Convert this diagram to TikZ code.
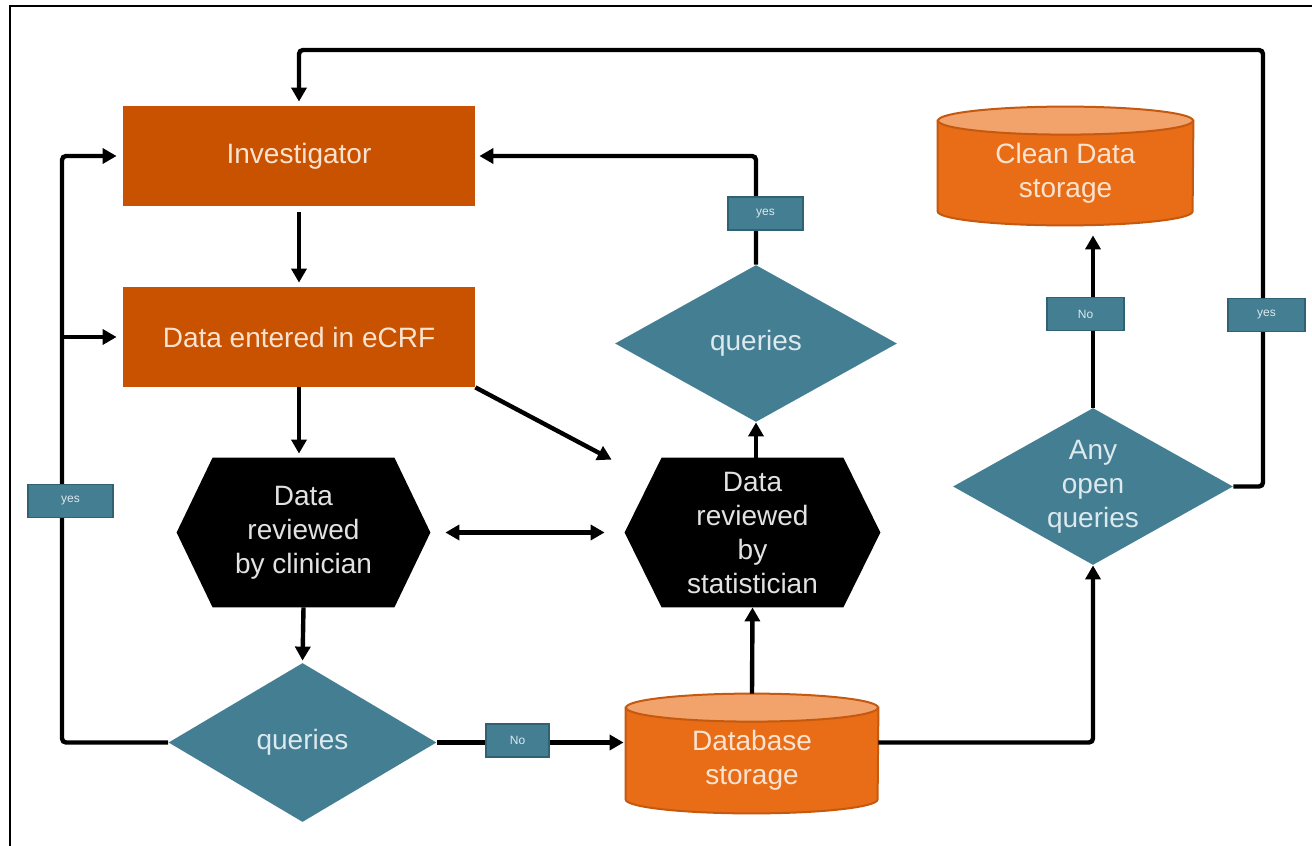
\documentclass[tikz,border=0pt]{standalone}
\usepackage{fontspec}
\setmainfont{Liberation Sans}
\usetikzlibrary{arrows.meta,calc,shapes.geometric}
\pgfdeclarelayer{bg}
\pgfsetlayers{bg,main}
\definecolor{boxor}{HTML}{C85200}
\definecolor{cylor}{HTML}{E86D16}
\definecolor{cyltop}{HTML}{F2A36B}
\definecolor{cylbd}{HTML}{C4590F}
\definecolor{dteal}{HTML}{447E92}
\definecolor{dtealbd}{HTML}{2F6273}
\definecolor{ortext}{HTML}{FBE3D2}
\definecolor{tltext}{HTML}{DCE9EE}
\definecolor{hxtext}{HTML}{E2E2E2}
\begin{document}
\begin{tikzpicture}[x=0.5pt,y=-0.5pt,
  every node/.style={font=\fontsize{14}{17}\selectfont},
  proc/.style={rectangle, fill=boxor, text=ortext, inner sep=0pt,
    minimum width=176pt, minimum height=50pt},
  hexn/.style={rectangle, inner sep=0pt, align=center, text=hxtext,
    minimum height=74.5pt},
  dia/.style={diamond, fill=dteal, text=tltext, inner sep=0pt, aspect=1.78, align=center},
  cyl/.style={rectangle, inner sep=0pt, align=center, text=ortext},
  conn/.style={line width=2.2pt, rounded corners=2pt, -{Triangle[length=7pt,width=7.5pt]}},
  dbl/.style={line width=2.2pt, {Triangle[length=7pt,width=7.5pt]}-{Triangle[length=7pt,width=7.5pt]}},
  lbl/.style={rectangle, fill=dteal, draw=dtealbd, line width=0.8pt, text=tltext,
    font=\fontsize{6}{7}\selectfont, inner sep=0pt, minimum height=16.5pt}
]
\useasboundingbox (0,0) rectangle (1312,846);
\draw[line width=1pt] (10,846) -- (10,6) -- (1312,6);

% nodes
\node[proc] (inv) at (299,156) {Investigator};
\node[proc] (ecrf) at (299,337) {Data entered in eCRF};
\node[hexn, minimum width=126.5pt] (clin) at (303.5,532.5) {Data\\reviewed\\by clinician};
\node[hexn, minimum width=127.5pt] (stat) at (752.5,532.5) {Data\\reviewed\\by\\statistician};
\node[dia, minimum width=134pt, minimum height=79.5pt] (qc) at (302.5,742.5) {queries};
\node[dia, minimum width=141pt, minimum height=78.5pt] (qt) at (756,343.5) {queries};
\node[dia, minimum width=140pt, minimum height=78.5pt] (any) at (1093,486.5) {Any\\open\\queries};
\node[cyl, minimum width=126pt, minimum height=52.5pt] (db) at (752,760.5) {Database\\storage};
\node[cyl, minimum width=127.5pt, minimum height=52pt] (clean) at (1065.5,173) {Clean Data\\storage};

\begin{pgfonlayer}{bg}
  \fill[black] (clin.west) -- ($(clin.north west)+(36,0)$) -- ($(clin.north east)+(-36,0)$)
    -- (clin.east) -- ($(clin.south east)+(-36,0)$) -- ($(clin.south west)+(36,0)$) -- cycle;
  \fill[black] (stat.west) -- ($(stat.north west)+(37,0)$) -- ($(stat.north east)+(-37,0)$)
    -- (stat.east) -- ($(stat.south east)+(-37,0)$) -- ($(stat.south west)+(37,0)$) -- cycle;
  \filldraw[fill=cylor, draw=cylbd, line width=1pt] (db.north west)
    -- ($(db.south west)+(0,-14)$) arc[start angle=180, end angle=0, x radius=126, y radius=14]
    -- (db.north east) -- cycle;
  \filldraw[fill=cyltop, draw=cylbd, line width=1pt] (db.north) ellipse[x radius=126, y radius=14];
  \filldraw[fill=cylor, draw=cylbd, line width=1pt] (clean.north west)
    -- ($(clean.south west)+(0,-14)$) arc[start angle=180, end angle=0, x radius=127.5, y radius=14]
    -- (clean.north east) -- cycle;
  \filldraw[fill=cyltop, draw=cylbd, line width=1pt] (clean.north) ellipse[x radius=127.5, y radius=14];
\end{pgfonlayer}

% connectors
\coordinate (tr) at (1263,50);
\coordinate (lt) at (62,156);
\draw[conn, shorten >=2pt] (any.east) -| (tr) -| (inv.north);
\draw[conn, shorten >=3pt] (qc.west) -| (lt) -- (inv.west);
\draw[conn, shorten >=3pt] (lt |- ecrf.west) -- (ecrf.west);
\draw[conn, shorten <=3pt, shorten >=2pt] (inv.south) -- (ecrf.north);
\draw[conn, shorten >=2pt] (ecrf.south) -- (ecrf.south |- clin.north);
\draw[conn, shorten >=1pt] (clin.south) -- (qc.north);
\draw[conn] (ecrf.south east) -- ($(stat.north west)+(-13,2)$);
\draw[dbl, shorten <=7.5pt, shorten >=10pt] (clin.east) -- (stat.west);
\draw[conn, shorten >=1pt] (qc.east) -- (qc.east -| db.west);
\draw[conn] ($(db.north)+(0,-14)$) -- (stat.south);
\draw[conn] (qt.south |- stat.north) -- (qt.south);
\draw[conn, shorten >=2pt] (qt.north) |- (inv.east);
\draw[conn] (db.east |- qc.east) -| (any.south);
\draw[conn, shorten >=5pt] (any.north) -- (any.north |- clean.south);

% labels
\node[lbl, minimum width=37.5pt] (ly1) at (765.5,213.5) {yes};
\node[lbl, minimum width=31.5pt] (ln1) at (517.5,740.5) {No};
\node[lbl, minimum width=38.5pt] (ln2) at (1085.5,314) {No};
\node[lbl, minimum width=38.5pt] (ly2) at (1266.5,315) {yes};
\node[lbl, minimum width=42.5pt] (ly3) at (70.5,501) {yes};
\end{tikzpicture}
\end{document}
